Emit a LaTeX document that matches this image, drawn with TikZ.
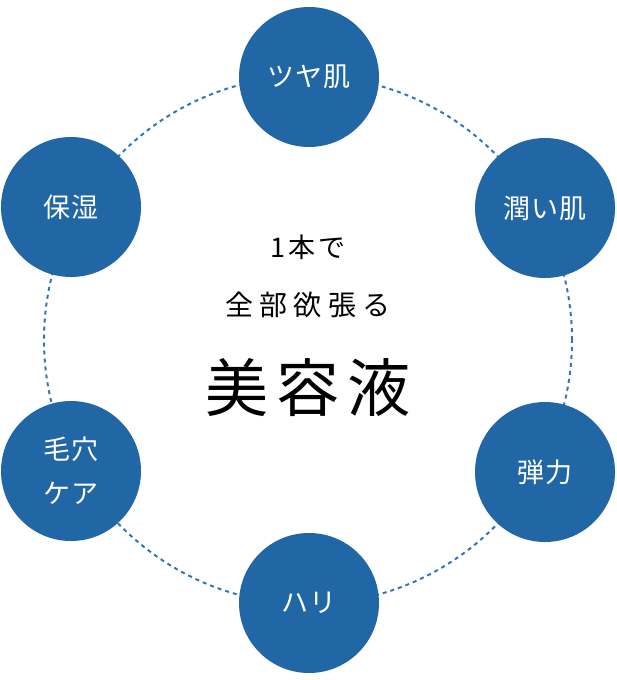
\documentclass[tikz,border=0pt]{standalone}
\usepackage{fontspec}
\newfontfamily\jpfont{Noto Sans CJK JP}
\definecolor{skinblue}{RGB}{33,102,165}
\tikzset{
  point/.style={circle, fill=skinblue, minimum size=140pt, inner sep=0pt,
    text=white, align=center,
    font=\jpfont\addfontfeature{LetterSpace=4}\fontsize{27}{44}\selectfont},
  ring/.style={skinblue!90, line width=2pt, dash pattern=on 4pt off 4pt},
  headline/.style={inner sep=0pt, text=black}
}
\begin{document}
\begin{tikzpicture}[x=1pt,y=-1pt]
\useasboundingbox (0,0) rectangle (616,680);
% Dotted ring behind the six points
\coordinate (centre) at (308,340);
\draw[ring] (centre) circle (264pt);
% Six points round the ring
\node[point] (tsuya) at (309,77) {ツヤ肌};
\node[point] (uruoi) at (545,208) {潤い肌};
\node[point] (danryoku) at (545,472) {弾力};
\node[point] (hari) at (309,603) {ハリ};
\node[point] (keana) at (71,471) {毛穴\\ケア};
\node[point] (hoshitsu) at (71,207) {保湿};
% Middle text
\node[headline, font=\jpfont\addfontfeature{LetterSpace=12}\fontsize{27}{30}\selectfont] (ippon) at (308,247) {1本で};
\node[headline, font=\jpfont\addfontfeature{LetterSpace=22}\fontsize{28}{32}\selectfont] (zenbu) at (308,305) {全部欲張る};
\node[headline, font=\jpfont\addfontfeature{LetterSpace=12}\fontsize{63}{68}\selectfont] (biyoueki) at (308,388) {美容液};
\end{tikzpicture}
\end{document}
